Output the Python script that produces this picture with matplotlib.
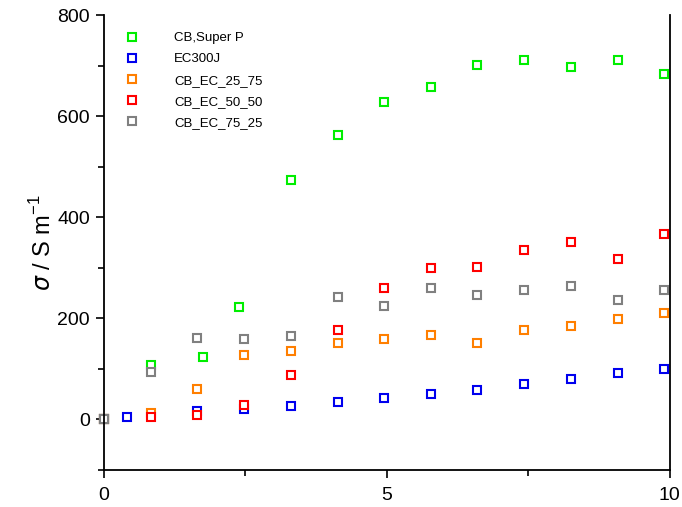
import numpy as np
import matplotlib.pyplot as plt
from matplotlib.ticker import MultipleLocator

plt.rcParams['font.family'] = ['Liberation Sans', 'DejaVu Sans']

# conductivity data
x_cb = [0, 0.83, 1.75, 2.39, 3.30, 4.13, 4.95, 5.78, 6.60, 7.43, 8.25, 9.08, 9.90]
s_cb = [0, 108, 124, 222, 473, 562, 629, 658, 701, 711, 697, 711, 683]

x_ec = [0, 0.41, 1.65, 2.48, 3.30, 4.13, 4.95, 5.78, 6.60, 7.43, 8.25, 9.08, 9.90]
s_ec = [0, 5, 16, 20, 27, 34, 43, 50, 59, 70, 81, 91, 99]

x_mix = [0, 0.83, 1.65, 2.48, 3.30, 4.13, 4.95, 5.78, 6.60, 7.43, 8.25, 9.08, 9.90]
s_25_75 = [0, 13, 60, 127, 135, 152, 159, 167, 151, 178, 185, 199, 211]
s_50_50 = [0, 5, 9, 29, 87, 177, 261, 300, 302, 336, 351, 317, 367]
s_75_25 = [0, 93, 161, 159, 165, 243, 225, 261, 246, 256, 265, 236, 256]

series = [
    (x_cb, s_cb, '#00ee00', 'CB,Super P'),
    (x_ec, s_ec, '#0000ee', 'EC300J'),
    (x_mix, s_25_75, '#ff7f00', 'CB_EC_25_75'),
    (x_mix, s_50_50, '#ff0000', 'CB_EC_50_50'),
    (x_mix, s_75_25, '#808080', 'CB_EC_75_25'),
]

fig = plt.figure(figsize=(6.82, 5.07), dpi=100)
ax = fig.add_axes([0.1525, 0.073, 0.8295, 0.897])

for xs, ys, c, lab in series:
    ax.plot(xs, ys, 's', ms=6.4, mfc='white', mec=c, mew=1.5,
            label=lab, clip_on=False)

ax.set_xlim(0, 10)
ax.set_ylim(-100, 800)
ax.xaxis.set_major_locator(MultipleLocator(5))
ax.xaxis.set_minor_locator(MultipleLocator(2.5))
ax.yaxis.set_major_locator(MultipleLocator(200))
ax.yaxis.set_minor_locator(MultipleLocator(100))
ax.tick_params(which='both', direction='out', width=1.2, labelsize=14)
ax.tick_params(which='major', length=6)
ax.tick_params(which='minor', length=4)
ax.tick_params(axis='x', pad=6)
ax.tick_params(axis='y', pad=4)
ax.spines['top'].set_visible(False)
for s in ['left', 'bottom', 'right']:
    ax.spines[s].set_linewidth(1.3)

ax.set_ylabel(r'$\sigma$ / S m$^{\mathregular{-1}}$', fontsize=17, labelpad=1)

ax.legend(loc='upper left', frameon=False, fontsize=9.5, handletextpad=2.2,
          labelspacing=0.68, borderaxespad=0.7, bbox_to_anchor=(0.0, 0.995))

fig.savefig('out.png', dpi=100)
